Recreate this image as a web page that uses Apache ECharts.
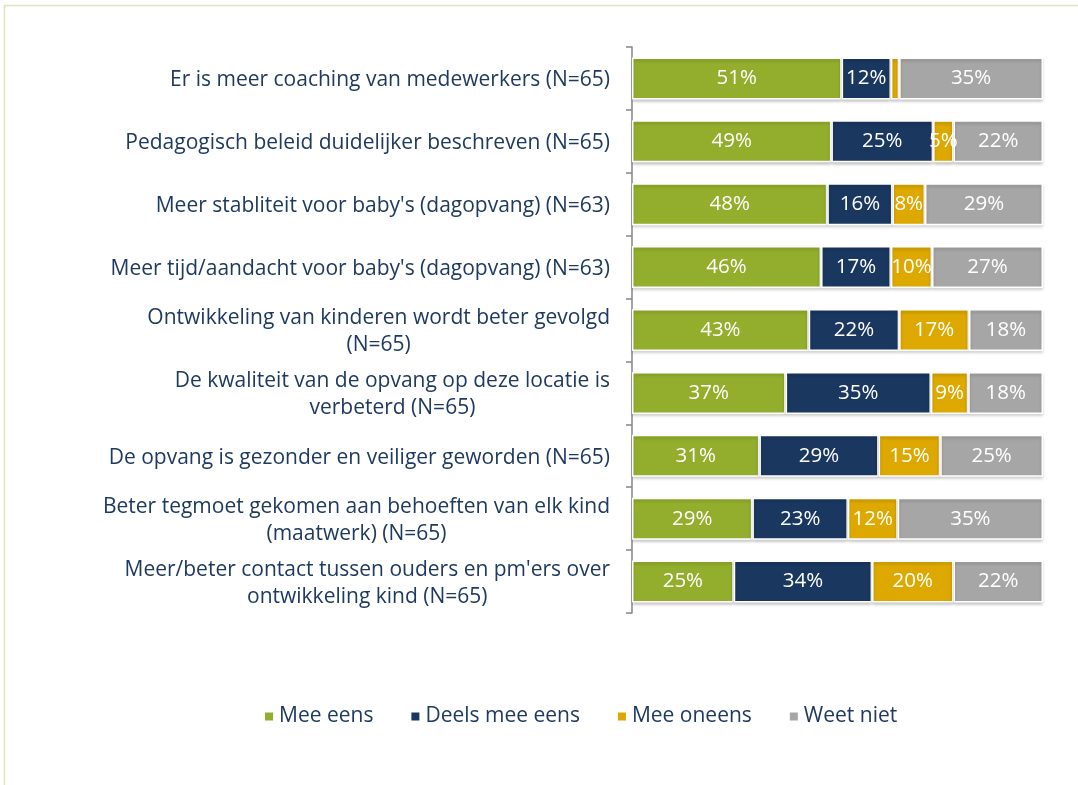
<!DOCTYPE html>
<html>
<head>
<meta charset="utf-8">
<script src="https://cdn.jsdelivr.net/npm/echarts@6/dist/echarts.min.js"></script>
<style>
  html, body { margin: 0; padding: 0; background: #fff; }
  #chart { width: 1078px; height: 785px; }
</style>
</head>
<body>
<div id="chart"></div>
<script>
const categories = [
  'Er is meer coaching van medewerkers (N=65)',
  'Pedagogisch beleid duidelijker beschreven (N=65)',
  "Meer stabliteit voor baby's (dagopvang) (N=63)",
  "Meer tijd/aandacht voor baby's (dagopvang) (N=63)",
  'Ontwikkeling van kinderen wordt beter gevolgd\n(N=65)',
  'De kwaliteit van de opvang op deze locatie is\nverbeterd (N=65)',
  'De opvang is gezonder en veiliger geworden (N=65)',
  'Beter tegmoet gekomen aan behoeften van elk kind\n(maatwerk) (N=65)',
  "Meer/beter contact tussen ouders en pm'ers over\nontwikkeling kind (N=65)"
]

const meeEens = [51, 49, 48, 46, 43, 37, 31, 29, 25]
const deelsMeeEens = [12, 25, 16, 17, 22, 35, 29, 23, 34]
const meeOneens = [2, 5, 8, 10, 17, 9, 15, 12, 20]
const weetNiet = [35, 22, 29, 27, 18, 18, 25, 35, 22]

const seriesNames = ['Mee eens', 'Deels mee eens', 'Mee oneens', 'Weet niet']
const colors = ['#93AE2D', '#1A3760', '#DDA800', '#A6A6A6']
const textColor = '#1F3A60'
const font = 'Open Sans'

const allValues = [meeEens, deelsMeeEens, meeOneens, weetNiet]
// 100% stacked: each row scaled to its own total, label keeps the raw value
const totals = categories.map((c, i) => allValues.reduce((s, arr) => s + arr[i], 0))

const chart = echarts.init(document.getElementById('chart'))

const series = allValues.map((vals, k) => ({
  name: seriesNames[k],
  type: 'bar',
  stack: 'total',
  barWidth: 42,
  data: vals.map((v, i) => ({ value: v / totals[i] * 100, raw: v })),
  itemStyle: {
    color: colors[k],
    borderColor: '#fff',
    borderWidth: 1.5,
    shadowColor: 'rgba(0,0,0,0.2)',
    shadowBlur: 3,
    shadowOffsetY: 2
  },
  label: {
    show: true,
    color: '#fff',
    fontFamily: font,
    fontSize: 20.5,
    formatter: (p) => p.data.raw < 3 ? '' : p.data.raw + '%'
  }
}))

chart.setOption({
  animation: false,
  color: colors,
  graphic: [{
    type: 'rect',
    shape: { x: 4.5, y: 5.5, width: 2000, height: 2000 },
    style: { fill: 'none', stroke: '#DCE7C2', lineWidth: 1.5 },
    silent: true
  }],
  grid: { left: 632, right: 35, top: 47, bottom: 172 },
  legend: {
    data: seriesNames,
    left: 258,
    top: 701,
    icon: 'rect',
    itemWidth: 10,
    itemHeight: 10,
    itemGap: 36,
    textStyle: { color: textColor, fontFamily: font, fontSize: 21 }
  },
  xAxis: {
    type: 'value',
    min: 0,
    max: 100,
    show: false
  },
  yAxis: {
    type: 'category',
    data: categories,
    inverse: true,
    axisLine: { show: true, lineStyle: { color: '#868686', width: 1.5 } },
    axisTick: { show: true, length: 6, lineStyle: { color: '#868686', width: 1.5 } },
    axisLabel: {
      margin: 22,
      formatter: (v) => '{c|' + v + '}',
      rich: {
        c: { align: 'center', color: textColor, fontFamily: font, fontSize: 21, lineHeight: 27, padding: [4, 0, 0, 0] }
      }
    }
  },
  series: series
})
</script>
</body>
</html>
